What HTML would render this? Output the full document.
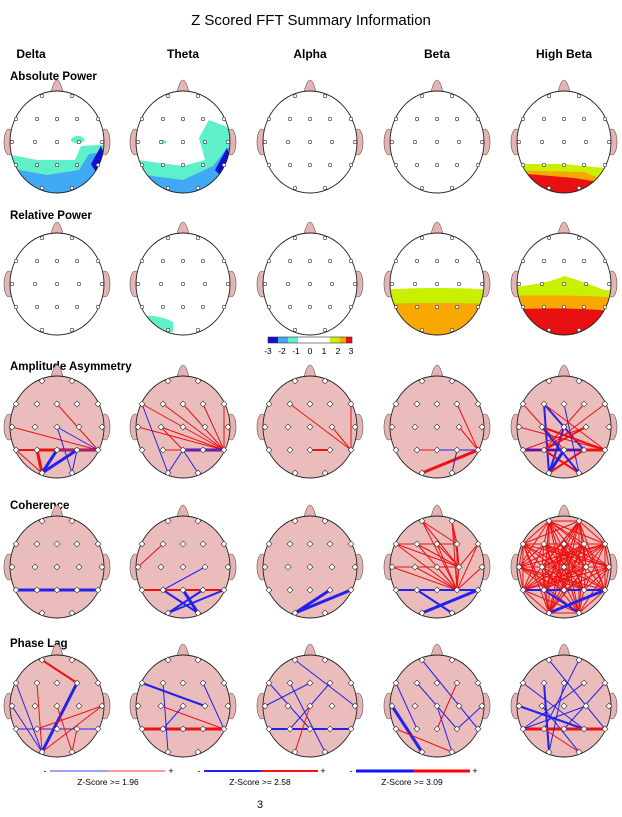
<!DOCTYPE html>
<html><head><meta charset="utf-8">
<style>
body{margin:0;background:#fff;width:622px;height:817px;overflow:hidden}
svg{display:block}
text{font-family:"Liberation Sans",Arial,sans-serif}
</style></head><body>
<svg id="s" width="622" height="817" xmlns="http://www.w3.org/2000/svg">
<text x="311" y="25" font-size="15" text-anchor="middle">Z Scored FFT Summary Information</text>
<g font-size="12" font-weight="bold" text-anchor="middle">
<text x="31" y="58">Delta</text><text x="183" y="58">Theta</text><text x="310" y="58">Alpha</text><text x="437" y="58">Beta</text><text x="564" y="58">High Beta</text>
</g>
<g font-size="11.5" font-weight="bold">
<text x="10" y="80">Absolute Power</text><text x="10" y="219">Relative Power</text><text x="10" y="370">Amplitude Asymmetry</text><text x="10" y="509">Coherence</text><text x="10" y="647">Phase Lag</text>
</g>
<g id="heads"></g>
<!-- colorbar -->
<rect x="268" y="337" width="10" height="6" fill="#1010d0"/>
<rect x="278" y="337" width="10" height="6" fill="#3fa9f5"/>
<rect x="288" y="337" width="10" height="6" fill="#5ef0c8"/>
<rect x="298" y="337" width="32" height="6" fill="#fff"/>
<rect x="330" y="337" width="10" height="6" fill="#c8f000"/>
<rect x="340" y="337" width="6" height="6" fill="#f8a800"/>
<rect x="346" y="337" width="6" height="6" fill="#e81010"/>
<rect x="268" y="337" width="84" height="6" fill="none" stroke="#333" stroke-width="0.6"/>
<g font-size="8.5" text-anchor="middle">
<text x="268" y="354">-3</text><text x="282" y="354">-2</text><text x="296" y="354">-1</text><text x="310" y="354">0</text><text x="324" y="354">1</text><text x="338" y="354">2</text><text x="351" y="354">3</text>
</g>
<!-- legend -->
<g font-size="9">
<text x="45" y="774" text-anchor="middle">-</text><line x1="50" y1="771" x2="108" y2="771" stroke="#4040ff" stroke-width="1"/><line x1="108" y1="771" x2="165" y2="771" stroke="#ff3030" stroke-width="1"/><text x="171" y="774" text-anchor="middle">+</text>
<text x="108" y="785" text-anchor="middle" font-size="8.5">Z-Score &gt;= 1.96</text>
<text x="199" y="774" text-anchor="middle">-</text><line x1="204" y1="771" x2="261" y2="771" stroke="#2020ff" stroke-width="2"/><line x1="261" y1="771" x2="318" y2="771" stroke="#ff1010" stroke-width="2"/><text x="323" y="774" text-anchor="middle">+</text>
<text x="260" y="785" text-anchor="middle" font-size="8.5">Z-Score &gt;= 2.58</text>
<text x="351" y="774" text-anchor="middle">-</text><line x1="356" y1="771" x2="413" y2="771" stroke="#1010ff" stroke-width="3"/><line x1="413" y1="771" x2="470" y2="771" stroke="#ff0000" stroke-width="3"/><text x="475" y="774" text-anchor="middle">+</text>
<text x="412" y="785" text-anchor="middle" font-size="8.5">Z-Score &gt;= 3.09</text>
</g>
<text x="260" y="808" font-size="11" text-anchor="middle">3</text>
</svg>
<script>
var E=[[-15,-46],[15,-46],[-41,-23],[-20,-23],[0,-23],[20,-23],[41,-23],[-45,0],[-22,0],[0,0],[22,0],[45,0],[-41,23],[-20,23],[0,23],[20,23],[41,23],[-15,46],[15,46]];
var CX=[57,183,310,437,564],CY=[142,284,427,567,706];
var A="#5ef0c8",L="#3fa9f5",B="#1010d0",Y="#c8f000",O="#f8a800",R="#e81010";
var maps={
"0,0":[[A,"M-60 10 L-20 18 L18 18 L24 4 L60 2 L60 70 L-60 70Z"],[L,"M-60 24 L-10 33 L22 28 L32 12 L60 8 L60 70 L-60 70Z"],[B,"M34 22 L44 4 L50 20 L40 32Z"],[A,"M14 -3 Q22 -10 28 -2 Q22 5 14 -1Z"]],
"0,1":[[A,"M-60 16 L0 24 L22 18 L16 -4 L26 -22 L42 -16 L60 -2 L60 70 L-60 70Z"],[L,"M-60 30 L0 38 L30 24 L44 6 L60 4 L60 70 L-60 70Z"],[B,"M32 28 L44 6 L50 22 L42 38Z"],[A,"M-24 -1 Q-20 -4 -16 0 Q-20 4 -24 0Z"]],
"0,4":[[Y,"M-60 22 L0 22 L40 26 L60 30 L60 70 L-60 70Z"],[O,"M-60 28 L20 30 L35 36 L60 36 L60 70 L-60 70Z"],[R,"M-60 30 L10 36 L35 40 L60 42 L60 70 L-60 70Z"]],
"1,1":[[A,"M-45 32 Q-25 30 -10 38 L-10 48 L-40 48Z"]],
"1,3":[[Y,"M-60 6 Q0 2 60 6 L60 70 L-60 70Z"],[O,"M-60 20 Q0 18 60 20 L60 70 L-60 70Z"]],
"1,4":[[Y,"M-60 4 Q-15 0 0 -8 Q15 -4 40 6 L60 6 L60 70 L-60 70Z"],[O,"M-60 12 Q0 10 60 14 L60 70 L-60 70Z"],[R,"M-60 26 Q0 22 60 28 L60 70 L-60 70Z"]]
};
function P(a,b,c,w){return [a,b,c,w||1];}
var r="#ee1111",b="#2222ee";
var links={
"2,0":[[16,4,r],[16,7,r],[16,9,b],[9,18,b],[15,18,b],[13,16,b,3],[12,13,r],[13,17,r,3],[12,17,r],[14,17,b,3],[17,15,b,3],[13,14,r,3],[12,16,r,2]],
"2,1":[[16,2,r],[16,3,r],[16,4,r],[16,5,r],[16,6,r],[16,7,r],[16,8,r],[2,17,b],[17,14,b],[14,18,b],[14,16,b,3],[8,14,r],[13,16,r]],
"2,2":[[16,3,r],[16,10,r],[16,6,r],[14,15,r,2]],
"2,3":[[16,5,r],[16,10,r],[13,16,r],[14,16,b],[17,16,r,3],[15,18,b]],
"2,4":[[3,15,b,2],[3,17,b,2],[2,14,r],[5,13,r],[6,13,r],[8,16,r,2],[9,17,b,2],[10,12,r],[12,16,r,3],[13,18,r,2],[14,17,b,3],[15,17,r,2],[7,16,r],[4,18,b],[10,13,r,2],[3,16,r],[8,18,b,2],[12,15,b,2]],
"3,0":[[12,16,b,3]],
"3,1":[[12,16,r,2],[13,18,b,2],[14,18,b,3],[17,15,b,2],[13,10,b],[3,7,r],[17,16,b,2]],
"3,2":[[17,15,b,3],[17,16,b,3]],
"3,3":[[12,16,b,2],[17,16,b,3],[13,16,b,2]],
"3,4":[[12,16,b,3],[17,16,b,2]]
};
var linksPL={
"4,0":[[2,17,b],[3,17,r],[0,5,r,2],[5,17,b,3],[7,17,b],[11,17,r],[13,11,r],[12,16,b],[15,18,r],[9,18,r]],
"4,1":[[2,10,b,2],[12,16,r,3],[3,17,b],[8,16,r],[13,9,b],[5,16,b]],
"4,2":[[0,11,b],[2,14,b],[3,18,b],[12,16,b,2],[13,5,b],[9,17,r],[4,7,b]],
"4,3":[[7,17,b,3],[2,13,b],[3,15,b],[0,16,b],[12,18,r],[9,18,b],[5,14,r],[11,15,b]],
"4,4":[[2,15,b],[3,17,b,2],[5,12,b],[0,16,b],[1,13,b],[7,15,b,2],[8,18,b],[12,16,r,3],[4,17,b],[6,14,b],[10,12,b],[13,18,r]]
};
for(var k in linksPL)links[k]=linksPL[k];
// dense coherence
(function(){var a=[],c=[],i,j;for(i=0;i<19;i++)for(j=i+1;j<19;j++){if((i*7+j*3)%4!=0)a.push([i,j,r]);if((i*5+j*11)%5==0)c.push([i,j,r]);}
a.push([12,16,b,2],[13,18,b,2],[17,16,b,3]);c.push([12,16,b,2],[17,16,b,3],[13,18,b,2]);
links["3,4"]=a;links["3,3"]=c;})();
var s="";
for(var row=0;row<5;row++)for(var col=0;col<5;col++){
 var cx=CX[col],cy=CY[row],pink=row>=2,fill=pink?"#ebbcbc":"#fff";
 s+='<g transform="translate('+cx+','+cy+')">';
 s+='<path d="M-6 -50 Q-3 -62 0 -62 Q3 -62 6 -50Z" fill="#e6b3b3" stroke="#555" stroke-width="0.6"/>';
 s+='<ellipse cx="-48" cy="0" rx="5" ry="13" fill="#e6b3b3" stroke="#555" stroke-width="0.6"/><ellipse cx="48" cy="0" rx="5" ry="13" fill="#e6b3b3" stroke="#555" stroke-width="0.6"/>';
 var id="c"+row+col;
 s+='<clipPath id="'+id+'"><ellipse cx="0" cy="0" rx="47" ry="51"/></clipPath>';
 s+='<ellipse cx="0" cy="0" rx="47" ry="51" fill="'+fill+'"/>';
 var m=maps[row+","+col];
 if(m){s+='<g clip-path="url(#'+id+')">';m.forEach(function(p){s+='<path d="'+p[1]+'" fill="'+p[0]+'"/>';});s+='</g>';}
 var l=links[row+","+col];
 if(l)l.forEach(function(q){var p1=E[q[0]],p2=E[q[1]];s+='<line x1="'+p1[0]+'" y1="'+p1[1]+'" x2="'+p2[0]+'" y2="'+p2[1]+'" stroke="'+q[2]+'" stroke-width="'+(q[3]||1)+'"/>';});
 s+='<ellipse cx="0" cy="0" rx="47" ry="51" fill="none" stroke="#222" stroke-width="0.9"/>';
 E.forEach(function(e){ if(pink) s+='<path d="M'+e[0]+' '+(e[1]-3)+' L'+(e[0]+3)+' '+e[1]+' L'+e[0]+' '+(e[1]+3)+' L'+(e[0]-3)+' '+e[1]+'Z" fill="#fff" stroke="#333" stroke-width="0.6"/>';
 else s+='<circle cx="'+e[0]+'" cy="'+e[1]+'" r="1.7" fill="#fff" stroke="#333" stroke-width="0.6"/>';});
 s+='</g>';
}
document.getElementById("heads").innerHTML=s;
</script>
</body></html>
